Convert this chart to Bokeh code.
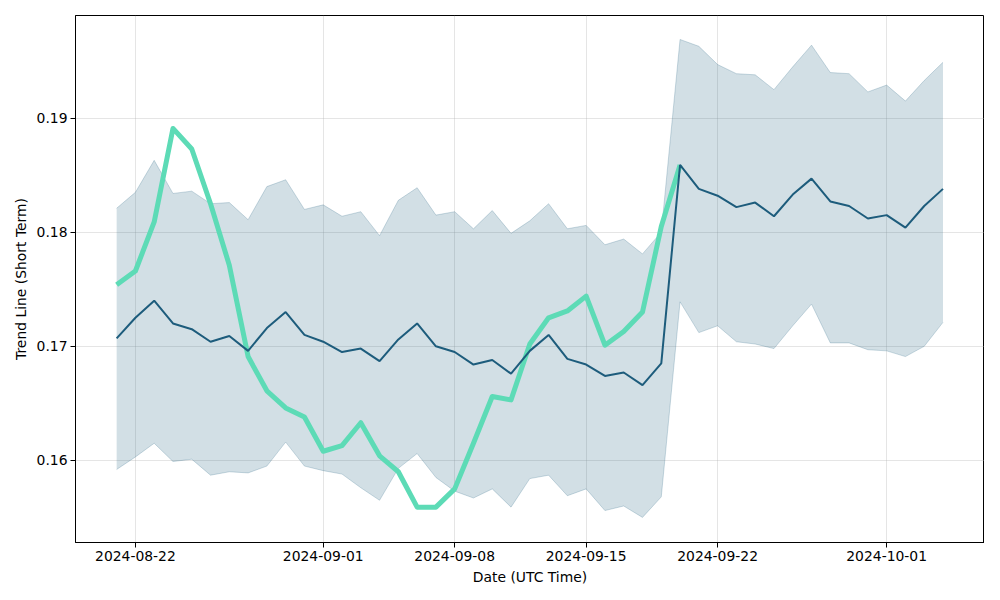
import pandas as pd
from datetime import datetime, timedelta
from bokeh.plotting import figure
from bokeh.models import Range1d, FixedTicker, DatetimeTickFormatter, NumeralTickFormatter, ColumnDataSource
from bokeh.embed import file_html
from bokeh.resources import INLINE

start_date = "2024-08-21"

mid = [0.1707, 0.1725, 0.1740, 0.1720, 0.1715, 0.1704, 0.1709, 0.1696, 0.1716, 0.1730,
       0.1710, 0.1704, 0.1695, 0.1698, 0.1687, 0.1706, 0.1720, 0.1700, 0.1695, 0.1684,
       0.1688, 0.1676, 0.1696, 0.1710, 0.1689, 0.1684, 0.1674, 0.1677, 0.1666, 0.1685,
       0.1859, 0.1838, 0.1832, 0.1822, 0.1826, 0.1814, 0.1833, 0.1847, 0.1827, 0.1823,
       0.1812, 0.1815, 0.1804, 0.1823, 0.1838]

upper = [0.1821, 0.1835, 0.1863, 0.1834, 0.1836, 0.1825, 0.1826, 0.1811, 0.1840, 0.1846,
         0.1820, 0.1824, 0.1814, 0.1818, 0.1797, 0.1828, 0.1839, 0.1815, 0.1818, 0.1803,
         0.1819, 0.1799, 0.1810, 0.1825, 0.1803, 0.1806, 0.1789, 0.1794, 0.1781, 0.1800,
         0.1969, 0.1963, 0.1947, 0.1939, 0.1938, 0.1925, 0.1945, 0.1964, 0.1940, 0.1939,
         0.1923, 0.1929, 0.1915, 0.1933, 0.1949]

lower = [0.1592, 0.1603, 0.1615, 0.1599, 0.1601, 0.1587, 0.1590, 0.1589, 0.1595, 0.1616,
         0.1595, 0.1591, 0.1588, 0.1576, 0.1565, 0.1593, 0.1606, 0.1585, 0.1573, 0.1567,
         0.1575, 0.1559, 0.1584, 0.1587, 0.1569, 0.1575, 0.1556, 0.1560, 0.1550, 0.1568,
         0.1739, 0.1712, 0.1718, 0.1704, 0.1702, 0.1698, 0.1718, 0.1737, 0.1703, 0.1703,
         0.1697, 0.1696, 0.1691, 0.1700, 0.1721]

price = [0.1754, 0.1766, 0.1809, 0.1891, 0.1873, 0.1825, 0.1771, 0.1691, 0.1661, 0.1646,
         0.1638, 0.1608, 0.1613, 0.1633, 0.1604, 0.1590, 0.1559, 0.1559, 0.1575, 0.1615,
         0.1656, 0.1653, 0.1702, 0.1725, 0.1731, 0.1744, 0.1701, 0.1713, 0.1730, 0.1805,
         0.1859]

x_tick_labels = ["2024-08-22", "2024-09-01", "2024-09-08", "2024-09-15", "2024-09-22", "2024-10-01"]
y_ticks = [0.16, 0.17, 0.18, 0.19]

dates = pd.date_range(start_date, periods=len(mid))
band_src = ColumnDataSource(dict(x=dates, mid=mid, upper=upper, lower=lower))
price_src = ColumnDataSource(dict(x=dates[:len(price)], y=price))

ref = datetime(2024, 8, 22)
p = figure(
    frame_width=909, frame_height=527,
    min_border_left=75, min_border_right=0, min_border_top=15, min_border_bottom=42,
    x_axis_type="datetime",
    x_range=Range1d(ref - timedelta(days=3.19), ref + timedelta(days=45.21)),
    y_range=Range1d(0.1528, 0.1990),
    output_backend="svg", toolbar_location=None,
)

p.varea(x="x", y1="lower", y2="upper", source=band_src, fill_color="#1f5f7f", fill_alpha=0.2)
p.line(x="x", y="upper", source=band_src, line_color="#1f5f7f", line_alpha=0.22, line_width=1)
p.line(x="x", y="lower", source=band_src, line_color="#1f5f7f", line_alpha=0.22, line_width=1)
p.line(x="x", y="y", source=price_src, line_color="#5ddbb6", line_width=5, line_join="round")
p.line(x="x", y="mid", source=band_src, line_color="#1d5c7c", line_width=2)

tick_ms = [pd.Timestamp(t).value / 1e6 for t in x_tick_labels]
p.xaxis.ticker = FixedTicker(ticks=tick_ms)
fmt = "%Y-%m-%d"
p.xaxis.formatter = DatetimeTickFormatter(
    microseconds=fmt, milliseconds=fmt, seconds=fmt, minsec=fmt, minutes=fmt,
    hourmin=fmt, hours=fmt, days=fmt, months=fmt, years=fmt)
p.yaxis.ticker = FixedTicker(ticks=y_ticks)
p.yaxis.formatter = NumeralTickFormatter(format="0.00")

p.xaxis.axis_label = "Date (UTC Time)"
p.yaxis.axis_label = "Trend Line (Short Term)"

for ax in (p.xaxis, p.yaxis):
    ax.axis_label_text_font = "DejaVu Sans"
    ax.axis_label_text_font_style = "normal"
    ax.axis_label_text_font_size = "13.9px"
    ax.axis_label_text_color = "black"
    ax.major_label_text_font = "DejaVu Sans"
    ax.major_label_text_font_size = "13.9px"
    ax.major_label_text_color = "black"
    ax.axis_line_color = "black"
    ax.major_tick_line_color = "black"
    ax.major_tick_out = 5
    ax.major_tick_in = 0
    ax.minor_tick_line_color = None
    ax.axis_label_standoff = 5
    ax.major_label_standoff = 3

p.grid.grid_line_color = "#b0b0b0"
p.grid.grid_line_alpha = 0.33
p.outline_line_color = "black"
p.outline_line_alpha = 1
p.outline_line_width = 1
p.background_fill_color = "white"
p.border_fill_color = "white"

open("out.html", "w").write(file_html(p, INLINE))
